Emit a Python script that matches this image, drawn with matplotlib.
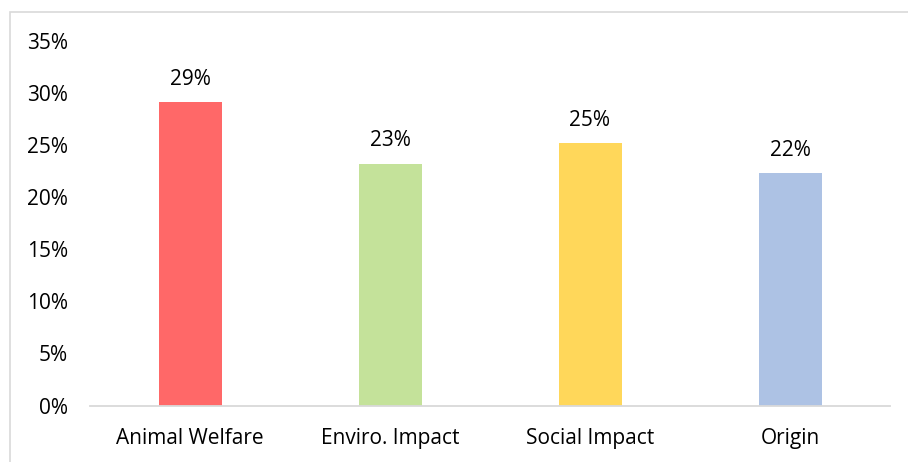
import matplotlib
matplotlib.use("Agg")
import matplotlib.pyplot as plt
from matplotlib.patches import Rectangle
from matplotlib.ticker import FuncFormatter, MultipleLocator

categories = ["Animal Welfare", "Enviro. Impact", "Social Impact", "Origin"]
shares = [0.291, 0.232, 0.252, 0.223]
bar_colors = ["#FF6868", "#C4E29A", "#FFD75A", "#ADC2E4"]

plt.rcParams["font.family"] = ["Open Sans", "DejaVu Sans"]

fig = plt.figure(figsize=(9.08, 4.62), dpi=100)
W, H = 908, 462
ax = fig.add_axes([90 / W, 1 - 405.5 / H, 800 / W, (405.5 - 41) / H])

x = range(len(categories))
bars = ax.bar(x, shares, width=0.315, color=bar_colors, zorder=2)

for b, v in zip(bars, shares):
    ax.annotate(f"{v:.0%}", (b.get_x() + b.get_width() / 2, v),
                xytext=(0, 9), textcoords="offset points",
                ha="center", va="bottom", fontsize=15, color="#000000")

ax.set_xlim(-0.5, len(categories) - 0.5)
ax.set_ylim(0, 0.35)
ax.yaxis.set_major_locator(MultipleLocator(0.05))
ax.yaxis.set_major_formatter(FuncFormatter(lambda v, _: f"{v:.0%}"))
ax.set_xticks(list(x))
ax.set_xticklabels(categories)

ax.tick_params(axis="both", length=0, labelsize=15, colors="#000000")
ax.tick_params(axis="y", pad=16)
ax.tick_params(axis="x", pad=16.5)

for side in ("top", "right", "left"):
    ax.spines[side].set_visible(False)
ax.spines["bottom"].set_color("#D9D9D9")
ax.spines["bottom"].set_linewidth(1.3)

# outer chart frame
fig.patches.append(Rectangle((9.5 / W, -0.1), 1.2, 1 - 11.5 / H + 0.1,
                             transform=fig.transFigure, fill=False,
                             edgecolor="#D9D9D9", linewidth=1.2))

fig.savefig("out.png", dpi=100, facecolor="white")
